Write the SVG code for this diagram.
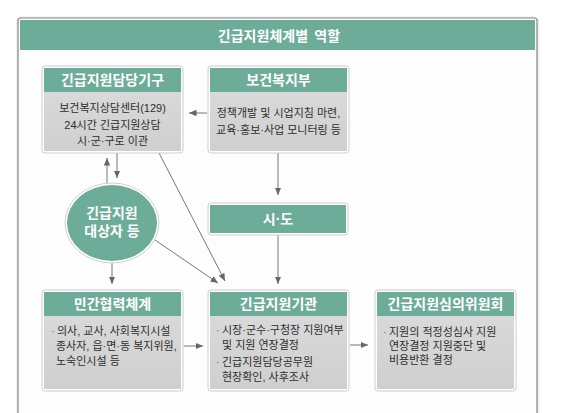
<svg xmlns="http://www.w3.org/2000/svg" width="564" height="413" viewBox="0 0 564 413">
<defs>
<marker id="ah" markerUnits="userSpaceOnUse" markerWidth="8" markerHeight="8" viewBox="0 0 8 8" refX="7.5" refY="4" orient="auto">
<path d="M0,0.8 L7.5,4 L0,7.2 Z" fill="#666"/>
</marker>
<linearGradient id="bg" x1="0" y1="0" x2="0" y2="1">
<stop offset="0" stop-color="#d9d9d9"/>
<stop offset="1" stop-color="#cfcfcf"/>
</linearGradient>
<filter id="sh" x="-5%" y="-5%" width="110%" height="110%">
<feDropShadow dx="0" dy="0" stdDeviation="1.2" flood-color="#000" flood-opacity="0.25"/>
</filter>
</defs>
<style>
.frame{fill:#fdfdfd;stroke:#8a8a8a;stroke-width:1.2}
.band{fill:#6dac99}
.outer{fill:#fff;stroke:#cdcdcd;stroke-width:1}
.hd{fill:#6dac99}
.bd{fill:url(#bg)}
.ht{font-family:"Liberation Sans","Noto Sans CJK KR",sans-serif;font-weight:bold;font-size:14px;fill:#fff;text-anchor:middle}
.tt{font-family:"Noto Sans CJK KR","Noto Sans",sans-serif;font-weight:bold;font-size:14px;fill:#fff;text-anchor:middle}
.bt{font-family:"Liberation Sans","Noto Sans CJK KR",sans-serif;font-size:11px;fill:#2e2e2e}
.bc{text-anchor:middle}
.bl{fill:#777}
.cn{stroke:#777;stroke-width:1;fill:none;marker-end:url(#ah)}
</style>
<rect width="564" height="413" fill="#fff"/>
<g id="frame">
<rect class="frame" x="18" y="18" width="519" height="410" rx="3" filter="url(#sh)"/>
<rect class="band" x="20" y="20" width="515" height="30"/>
<text class="tt" x="279" y="41" xml:space="preserve">긴급지원체계별  역할</text>
</g>
<g id="connectors">
<line class="cn" x1="207" y1="113" x2="189" y2="113"/>
<line class="cn" x1="278" y1="153" x2="278" y2="195"/>
<line class="cn" x1="278" y1="235" x2="278" y2="284"/>
<line class="cn" x1="107" y1="183" x2="107" y2="158"/>
<line class="cn" x1="117" y1="153" x2="117" y2="178"/>
<line class="cn" x1="112" y1="263" x2="112" y2="284"/>
<line class="cn" x1="159" y1="153" x2="225" y2="281"/>
<line class="cn" x1="155" y1="240" x2="218" y2="283"/>
<line class="cn" x1="184" y1="346" x2="203" y2="346"/>
<line class="cn" x1="350" y1="345" x2="368" y2="345"/>
</g>
<g id="n-gigu">
<rect class="outer" x="42" y="66" width="141" height="87" rx="3"/>
<rect class="hd" x="44" y="68" width="137" height="24"/>
<rect class="bd" x="44" y="92" width="137" height="59"/>
<text class="ht" x="112.5" y="85">긴급지원담당기구</text>
<text class="bt bc" x="112.5" y="112">보건복지상담센터(129)</text>
<text class="bt bc" x="112.5" y="129">24시간 긴급지원상담</text>
<text class="bt bc" x="112.5" y="145">시·군·구로 이관</text>
</g>
<g id="n-mohw">
<rect class="outer" x="208" y="66" width="141" height="87" rx="3"/>
<rect class="hd" x="210" y="68" width="137" height="24"/>
<rect class="bd" x="210" y="92" width="137" height="59"/>
<text class="ht" x="278.5" y="85">보건복지부</text>
<text class="bt bc" x="278.5" y="117">정책개발 및 시업지침 마련,</text>
<text class="bt bc" x="278.5" y="134">교육·홍보·사업 모니터링 등</text>
</g>
<g id="n-sido">
<rect class="outer" x="208" y="203" width="140" height="32" rx="3"/>
<rect class="hd" x="210" y="205" width="136" height="28"/>
<text class="ht" x="278" y="224">시·도</text>
</g>
<g id="n-target">
<ellipse cx="112" cy="223" rx="47" ry="40" fill="#fff" stroke="#d0d0d0"/>
<ellipse cx="112" cy="223" rx="45" ry="38" fill="#6dac99"/>
<text class="ht" x="112" y="218">긴급지원</text>
<text class="ht" x="112" y="236">대상자 등</text>
</g>
<g id="n-private">
<rect class="outer" x="42" y="290" width="141" height="101" rx="3"/>
<rect class="hd" x="44" y="292" width="137" height="24"/>
<rect class="bd" x="44" y="316" width="137" height="73"/>
<text class="ht" x="112.5" y="309">민간협력체계</text>
<text class="bt bl" x="51" y="335">·</text>
<text class="bt" x="57" y="335">의사, 교사, 사회복지시설</text>
<text class="bt" x="56" y="350">종사자, 읍·면·동 복지위원,</text>
<text class="bt" x="56" y="365">노숙인시설 등</text>
</g>
<g id="n-agency">
<rect class="outer" x="208" y="290" width="141" height="101" rx="3"/>
<rect class="hd" x="210" y="292" width="137" height="24"/>
<rect class="bd" x="210" y="316" width="137" height="73"/>
<text class="ht" x="278.5" y="309">긴급지원기관</text>
<text class="bt bl" x="216" y="334">·</text>
<text class="bt" x="222" y="334">시장·군수·구청장 지원여부</text>
<text class="bt" x="222" y="349">및 지원 연장결정</text>
<text class="bt bl" x="216" y="366">·</text>
<text class="bt" x="222" y="366">긴급지원담당공무원</text>
<text class="bt" x="222" y="381">현장확인, 사후조사</text>
</g>
<g id="n-committee">
<rect class="outer" x="375" y="290" width="141" height="101" rx="3"/>
<rect class="hd" x="377" y="292" width="137" height="24"/>
<rect class="bd" x="377" y="316" width="137" height="73"/>
<text class="ht" x="445.5" y="309">긴급지원심의위원회</text>
<text class="bt bl" x="383" y="336">·</text>
<text class="bt" x="389" y="336">지원의 적정성심사 지원</text>
<text class="bt" x="389" y="350">연장결정 지원중단 및</text>
<text class="bt" x="389" y="364">비용반환 결정</text>
</g>
</svg>
